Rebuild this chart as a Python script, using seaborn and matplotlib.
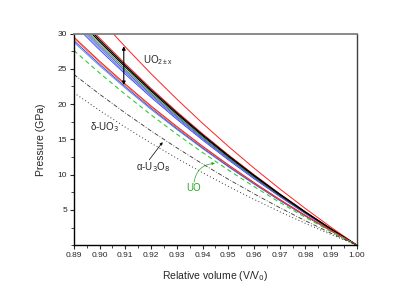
import matplotlib
matplotlib.use("Agg")
import matplotlib.pyplot as plt
from matplotlib.ticker import MultipleLocator
import seaborn as sns

# relative volume grid
vol = [0.89, 0.90, 0.91, 0.92, 0.93, 0.94, 0.95, 0.96, 0.97, 0.98, 0.99, 1.00]

# pressure (GPa)
red_top = [36.3, 32.09, 28.10, 24.30, 20.71, 17.28, 14.02, 10.93, 7.99, 5.19, 2.53, 0]
red_mid = [33.2, 29.35, 25.70, 22.22, 18.94, 15.80, 12.82, 10.00, 7.30, 4.74, 2.31, 0]
black_a = [32.9, 29.09, 25.47, 22.02, 18.77, 15.66, 12.71, 9.91, 7.24, 4.70, 2.29, 0]
black_b = [32.6, 28.82, 25.24, 21.82, 18.60, 15.52, 12.59, 9.82, 7.17, 4.66, 2.27, 0]
green_a = [32.2, 28.47, 24.93, 21.55, 18.37, 15.33, 12.44, 9.70, 7.08, 4.60, 2.24, 0]
blue_a = [31.9, 28.20, 24.69, 21.35, 18.20, 15.18, 12.32, 9.61, 7.02, 4.56, 2.22, 0]
purple_a = [31.6, 27.94, 24.46, 21.15, 18.02, 15.04, 12.21, 9.51, 6.95, 4.52, 2.20, 0]
blue_b = [31.3, 27.67, 24.23, 20.95, 17.85, 14.90, 12.09, 9.42, 6.89, 4.47, 2.18, 0]
red_low = [29.5, 26.08, 22.84, 19.74, 16.83, 14.04, 11.40, 8.88, 6.49, 4.22, 2.06, 0]
orange_low = [29.3, 25.90, 22.68, 19.61, 16.71, 13.95, 11.32, 8.82, 6.45, 4.19, 2.04, 0]
blue_low = [29.0, 25.64, 22.45, 19.41, 16.54, 13.80, 11.20, 8.73, 6.38, 4.14, 2.02, 0]
lblue_low = [28.75, 25.42, 22.26, 19.24, 16.40, 13.69, 11.11, 8.66, 6.33, 4.11, 2.00, 0]
uo = [27.6, 24.40, 21.37, 18.47, 15.74, 13.14, 10.66, 8.31, 6.07, 3.94, 1.92, 0]
delta_uo3 = [24.2, 21.40, 18.73, 16.20, 13.80, 11.52, 9.35, 7.29, 5.32, 3.46, 1.69, 0]
alpha_u3o8 = [21.6, 19.10, 16.72, 14.46, 12.32, 10.28, 8.34, 6.50, 4.75, 3.09, 1.51, 0]

xticks = [0.89, 0.90, 0.91, 0.92, 0.93, 0.94, 0.95, 0.96, 0.97, 0.98, 0.99, 1.00]
yticks = [5, 10, 15, 20, 25, 30]

sns.set_style("ticks")
plt.rcParams['font.family'] = ['Liberation Sans', 'DejaVu Sans']

fig = plt.figure(figsize=(4.15, 2.94), dpi=100)
ax = fig.add_axes([0.178, 0.166, 0.682, 0.720])

curves = [
    (red_top, '#ff2020', '-', 0.7),
    (red_mid, '#ff2020', '-', 0.7),
    (blue_b, '#1f3fff', '-', 0.6),
    (purple_a, '#7060d0', '-', 0.6),
    (blue_a, '#3050e0', '-', 0.6),
    (green_a, '#2e8b2e', '-', 0.6),
    (black_b, 'black', '-', 0.8),
    (black_a, 'black', '-', 0.8),
    (lblue_low, '#6a7fe0', '-', 0.6),
    (blue_low, '#2040ff', '-', 0.6),
    (orange_low, '#e07020', '-', 0.6),
    (red_low, '#ff2020', '-', 0.7),
    (uo, '#33cc33', (0, (4, 3)), 0.8),
    (delta_uo3, '#333333', (0, (5, 2, 1, 2)), 0.6),
    (alpha_u3o8, '#333333', (0, (1, 2.5)), 0.7),
]
for vals, col, ls, lw in curves:
    sns.lineplot(x=vol, y=vals, color=col, linestyle=ls, linewidth=lw, ax=ax)

ax.set_xlim(0.89, 1.00)
ax.set_ylim(0, 30)
ax.set_xticks(xticks)
ax.set_xticklabels([f"{v:.2f}" for v in xticks])
ax.set_yticks(yticks)
ax.xaxis.set_minor_locator(MultipleLocator(0.005))
ax.yaxis.set_minor_locator(MultipleLocator(2.5))
ax.tick_params(which='major', direction='out', length=3, width=0.8, labelsize=6, pad=2)
ax.tick_params(which='minor', direction='out', length=2, width=0.6)

for s in ['left', 'bottom']:
    ax.spines[s].set_color('black')
    ax.spines[s].set_linewidth(1.0)
ax.spines['top'].set_color('#808080')
ax.spines['top'].set_linewidth(1.3)
ax.spines['right'].set_color('#404040')
ax.spines['right'].set_linewidth(1.0)

ax.set_xlabel('Relative volume (V/V$_0$)', fontsize=7.5, labelpad=7)
ax.set_ylabel('Pressure (GPa)', fontsize=7.5, labelpad=8)

# annotations
ax.annotate('', xy=(0.9094, 28.2), xytext=(0.9094, 22.7),
            arrowprops=dict(arrowstyle='<|-|>', color='black', lw=0.8,
                            mutation_scale=5, shrinkA=0, shrinkB=0))
ax.text(0.917, 26.2, 'UO$_{\\mathregular{2\\pm x}}$', fontsize=7, va='center', ha='left')
ax.text(0.8962, 16.7, '\u03b4-UO$_3$', fontsize=7, va='center', ha='left')
ax.text(0.9143, 11.1, '\u03b1-U$_3$O$_8$', fontsize=7, va='center', ha='left')
ax.annotate('', xy=(0.9245, 14.6), xytext=(0.9193, 12.1),
            arrowprops=dict(arrowstyle='-|>', color='black', lw=0.5,
                            mutation_scale=4, shrinkA=0, shrinkB=0))
ax.text(0.9367, 8.1, 'UO', fontsize=7, va='center', ha='center', color='#22aa22')
ax.annotate('', xy=(0.9448, 11.6), xytext=(0.9367, 8.9),
            arrowprops=dict(arrowstyle='-|>', color='#22aa22', lw=0.5,
                            mutation_scale=4, shrinkA=0, shrinkB=0,
                            connectionstyle='arc3,rad=-0.4'))

fig.savefig('out.png', dpi=100)
